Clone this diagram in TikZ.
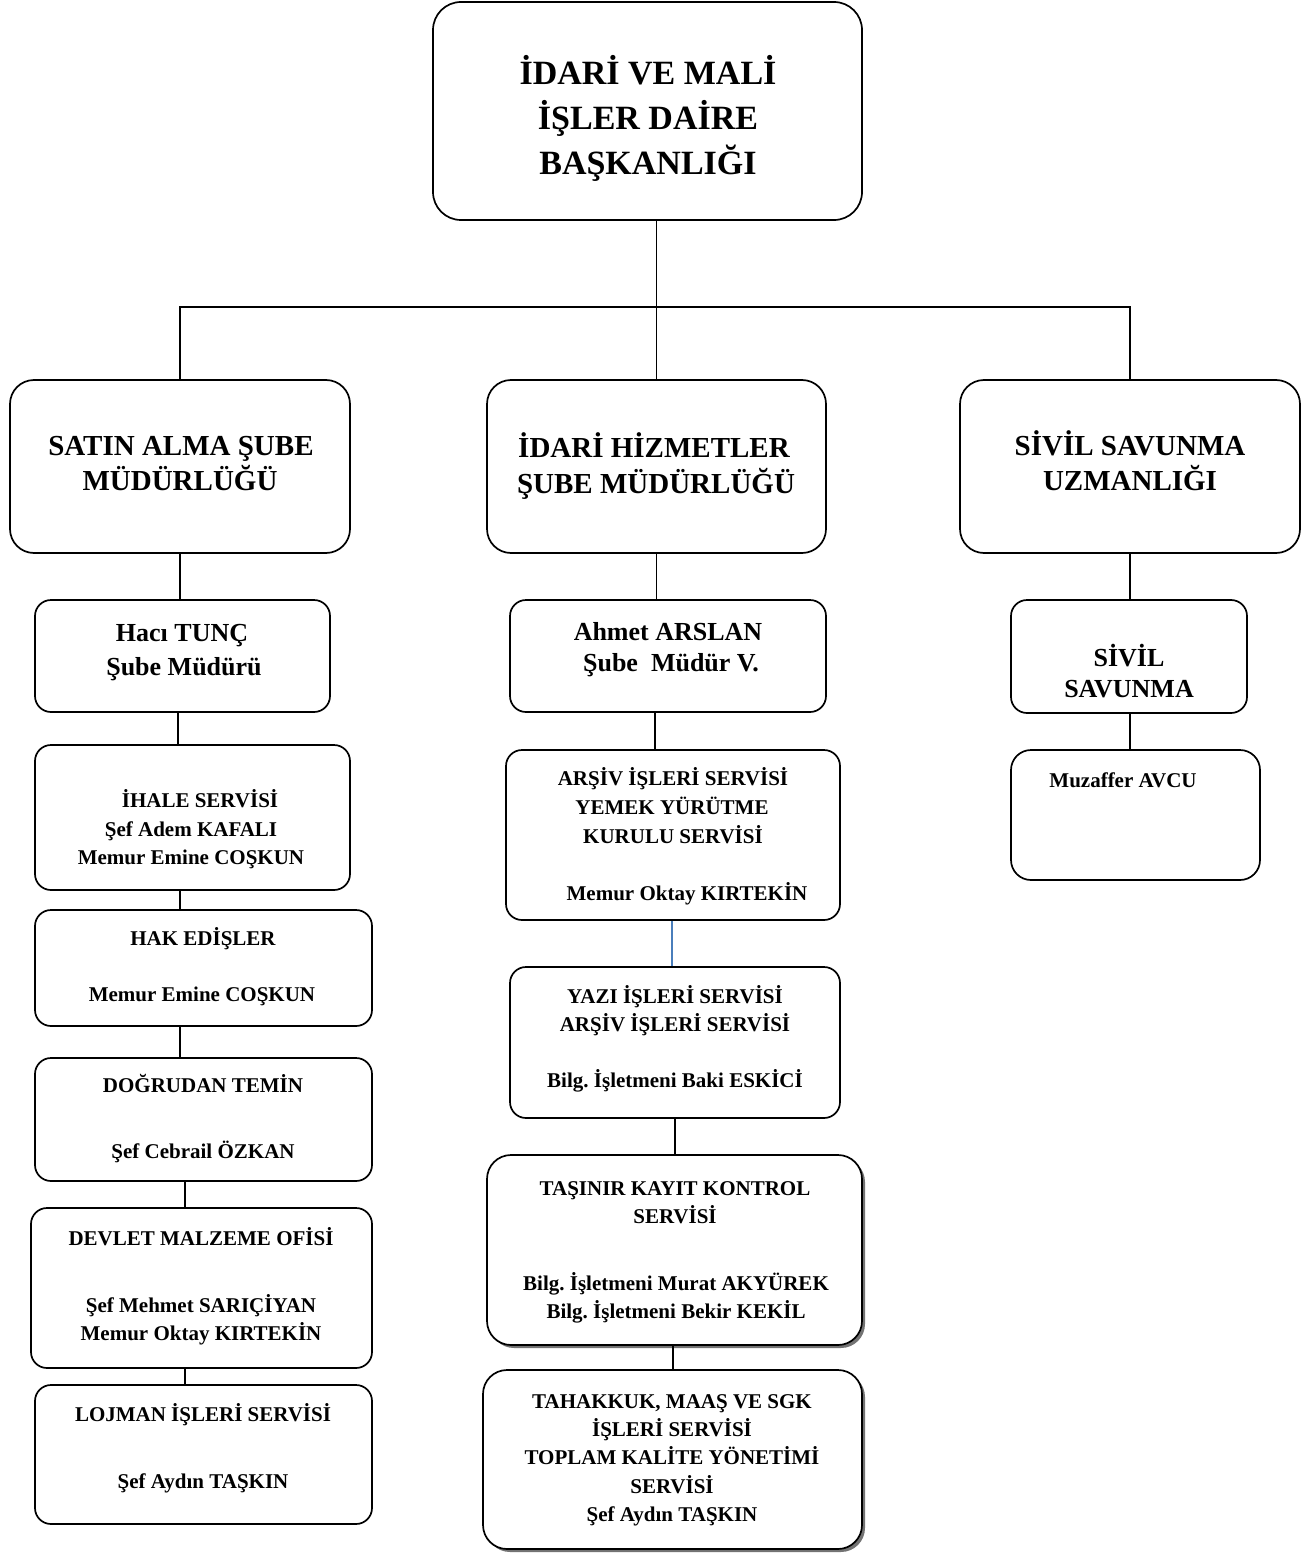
\documentclass[tikz,border=0pt]{standalone}
\usepackage{fontspec}
\setmainfont{Liberation Serif}
\usetikzlibrary{shadows,calc}
\frenchspacing
\newcommand\fTop{\fontsize{34}{40}\selectfont\bfseries}
\newcommand\fMid{\fontsize{29}{35}\selectfont\bfseries}
\newcommand\fPer{\fontsize{26}{31}\selectfont\bfseries}
\newcommand\fSm{\fontsize{21}{25}\selectfont\bfseries}
\newcommand\bx[6][]{\node[box,#1,minimum width={#4-#2},minimum height={#5-#3}] (#6) at ({(#2+#4)/2},{(#3+#5)/2}) {};}
\newcommand\tline[5]{\node[txt,font=#2,anchor=base] (#1) at (#3,#4) {#5};}
\newcommand\vl[4][link]{\coordinate (#2v) at ($(#2.south)+(#4,0)$); \draw[#1] (#2v) -- (#2v |- #3.north);}
\definecolor{wordblue}{HTML}{4A7EBB}
\begin{document}
\begin{tikzpicture}[x=1pt,y=-1pt,
 box/.style={draw,line width=1.7pt,rounded corners=16pt,inner sep=0pt,fill=white},
 link/.style={line width=1.6pt},
 bluelink/.style={line width=1.3pt,draw=wordblue},
 txt/.style={inner sep=0pt,text=black},
 shad/.style={drop shadow={shadow xshift=3pt,shadow yshift=-3pt,fill=black!55,opacity=1}}]
\useasboundingbox (0,0) rectangle (1312,1554);
% boxes
\bx[rounded corners=28pt]{433}{2}{862}{220}{top}
\bx[rounded corners=24pt]{10}{380}{350}{553}{sat}
\bx[rounded corners=24pt]{487}{380}{826}{553}{idh}
\bx[rounded corners=24pt]{960}{380}{1300}{553}{siv}
\bx{35}{600}{330}{712}{haci}
\bx{35}{745}{350}{890}{ihale}
\bx{35}{910}{372}{1026}{hak}
\bx{35}{1058}{372}{1181}{dog}
\bx{31}{1208}{372}{1368}{dmo}
\bx{35}{1385}{372}{1524}{loj}
\bx{510}{600}{826}{712}{ahmet}
\bx{506}{750}{840}{920}{arsiv}
\bx{510}{967}{840}{1118}{yazi}
\bx[shad,rounded corners=24pt]{487}{1155}{862}{1345}{tasinir}
\bx[shad,rounded corners=24pt]{483}{1370}{862}{1549}{tahakkuk}
\bx{1011}{600}{1247}{713}{sivil}
\bx[rounded corners=20pt]{1011}{750}{1260}{880}{muz}
% connectors
\coordinate (bar) at (655,307);
\draw[link] (top.south -| idh.north) -- (idh.north);
\draw[link] (sat.north) |- (bar) -| (siv.north);
\vl{sat}{haci}{0}
\vl{haci}{ihale}{-4.5}
\vl{ihale}{hak}{-12.5}
\vl{hak}{dog}{-23.5}
\vl{dog}{dmo}{-18.5}
\vl{dmo}{loj}{-16.5}
\vl{idh}{ahmet}{0}
\vl{ahmet}{arsiv}{-13}
\vl[bluelink]{arsiv}{yazi}{-1}
\vl{yazi}{tasinir}{0}
\vl{tasinir}{tahakkuk}{-1.5}
\vl{siv}{sivil}{0}
\vl{sivil}{muz}{1}
% texts
\tline{ta}{\fTop}{648}{85}{İDARİ VE MALİ}
\tline{tb}{\fTop}{648}{130}{İŞLER DAİRE}
\tline{tc}{\fTop}{648}{175}{BAŞKANLIĞI}
\tline{sa}{\fMid}{181}{455}{SATIN ALMA ŞUBE}
\tline{sb}{\fMid}{180}{490}{MÜDÜRLÜĞÜ}
\tline{ia}{\fMid}{654}{457}{İDARİ HİZMETLER}
\tline{ib}{\fMid}{656}{493}{ŞUBE MÜDÜRLÜĞÜ}
\tline{va}{\fMid}{1130}{455}{SİVİL SAVUNMA}
\tline{vb}{\fMid}{1130}{490}{UZMANLIĞI}
\tline{ha}{\fPer}{182}{641}{Hacı TUNÇ}
\tline{hb}{\fPer}{184}{675}{Şube Müdürü}
\tline{aa}{\fPer}{668}{640}{Ahmet ARSLAN}
\tline{ab}{\fPer}{671}{671}{Şube\ \ Müdür V.}
\tline{sva}{\fPer}{1129}{666}{SİVİL}
\tline{svb}{\fPer}{1129}{697}{SAVUNMA}
\tline{mza}{\fSm}{1123}{787}{Muzaffer AVCU}
\tline{ila}{\fSm}{200}{807}{İHALE SERVİSİ}
\tline{ilb}{\fSm}{191}{836}{Şef Adem KAFALI}
\tline{ilc}{\fSm}{191}{864}{Memur Emine COŞKUN}
\tline{hka}{\fSm}{203}{945}{HAK EDİŞLER}
\tline{hkb}{\fSm}{202}{1001}{Memur Emine COŞKUN}
\tline{dga}{\fSm}{203}{1092}{DOĞRUDAN TEMİN}
\tline{dgb}{\fSm}{203}{1158}{Şef Cebrail ÖZKAN}
\tline{dma}{\fSm}{201}{1245}{DEVLET MALZEME OFİSİ}
\tline{dmb}{\fSm}{201}{1312}{Şef Mehmet SARIÇİYAN}
\tline{dmc}{\fSm}{201}{1340}{Memur Oktay KIRTEKİN}
\tline{lja}{\fSm}{203}{1421}{LOJMAN İŞLERİ SERVİSİ}
\tline{ljb}{\fSm}{203}{1488}{Şef Aydın TAŞKIN}
\tline{ara}{\fSm}{673}{785}{ARŞİV İŞLERİ SERVİSİ}
\tline{arb}{\fSm}{672}{814}{YEMEK YÜRÜTME}
\tline{arc}{\fSm}{673}{843}{KURULU SERVİSİ}
\tline{ard}{\fSm}{687}{900}{Memur Oktay KIRTEKİN}
\tline{yza}{\fSm}{675}{1003}{YAZI İŞLERİ SERVİSİ}
\tline{yzb}{\fSm}{675}{1031}{ARŞİV İŞLERİ SERVİSİ}
\tline{yzc}{\fSm}{675}{1087}{Bilg. İşletmeni Baki ESKİCİ}
\tline{tsa}{\fSm}{675}{1195}{TAŞINIR KAYIT KONTROL}
\tline{tsb}{\fSm}{675}{1223}{SERVİSİ}
\tline{tsc}{\fSm}{676}{1290}{Bilg. İşletmeni Murat AKYÜREK}
\tline{tsd}{\fSm}{676}{1318}{Bilg. İşletmeni Bekir KEKİL}
\tline{tka}{\fSm}{672}{1408}{TAHAKKUK, MAAŞ VE SGK}
\tline{tkb}{\fSm}{672}{1436}{İŞLERİ SERVİSİ}
\tline{tkc}{\fSm}{672}{1464}{TOPLAM KALİTE YÖNETİMİ}
\tline{tkd}{\fSm}{672}{1493}{SERVİSİ}
\tline{tke}{\fSm}{672}{1521}{Şef Aydın TAŞKIN}
\end{tikzpicture}
\end{document}
